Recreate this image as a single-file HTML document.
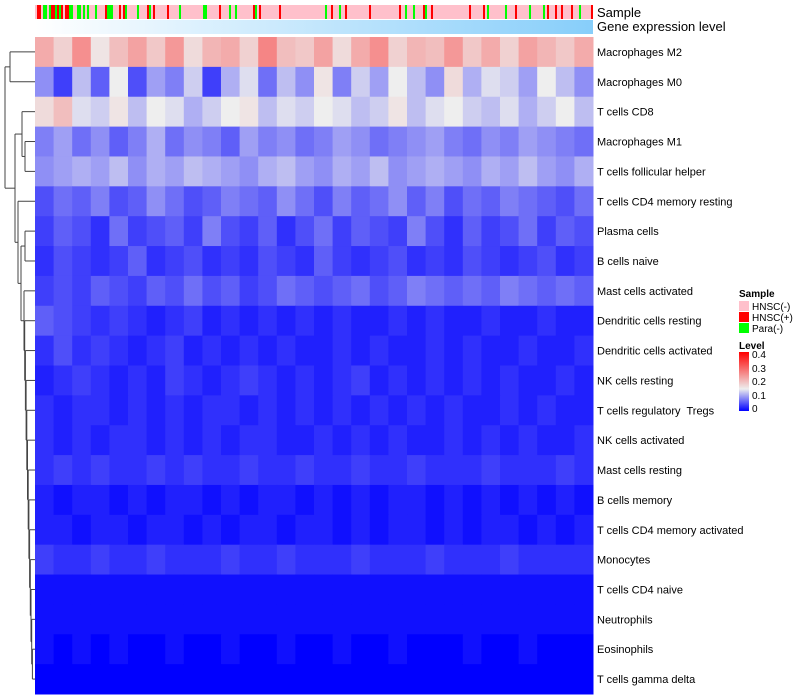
<!DOCTYPE html>
<html><head><meta charset="utf-8"><style>
body{margin:0;background:#fff;font-family:"Liberation Sans",sans-serif}
svg{display:block}
#labels text{white-space:pre}
</style></head><body>
<svg id="chart" width="800" height="700">
<g id="dendro"></g>
<g id="tracks"></g>
<g id="cells"></g>
<g id="labels"></g>
<text x="597" y="17" font-size="13">Sample</text>
<text x="597" y="31" font-size="13">Gene expression level</text>
<g>
<text x="739" y="297" font-size="10" font-weight="bold">Sample</text>
<rect x="739" y="301" width="10" height="10" fill="#ffc0cb"/>
<text x="752" y="310" font-size="10">HNSC(-)</text>
<rect x="739" y="312" width="10" height="10" fill="#ff0000"/>
<text x="752" y="321" font-size="10">HNSC(+)</text>
<rect x="739" y="323" width="10" height="10" fill="#00ff00"/>
<text x="752" y="332" font-size="10">Para(-)</text>
</g>
<g>
<text x="739" y="349" font-size="10" font-weight="bold">Level</text>
<defs><linearGradient id="lg" x1="0" y1="1" x2="0" y2="0">
<stop offset="0" stop-color="#0000ff"/><stop offset="0.375" stop-color="#eeeeee"/><stop offset="1" stop-color="#ff0000"/></linearGradient></defs>
<rect x="739" y="352" width="10" height="59" fill="url(#lg)"/>
<text x="752" y="358" font-size="10">0.4</text>
<text x="752" y="372" font-size="10">0.3</text>
<text x="752" y="385" font-size="10">0.2</text>
<text x="752" y="399" font-size="10">0.1</text>
<text x="752" y="412" font-size="10">0</text>
</g>
</svg>
<script>
const rowNames=["Macrophages M2","Macrophages M0","T cells CD8","Macrophages M1","T cells follicular helper","T cells CD4 memory resting","Plasma cells","B cells naive","Mast cells activated","Dendritic cells resting","Dendritic cells activated","NK cells resting","T cells regulatory  Tregs","NK cells activated","Mast cells resting","B cells memory","T cells CD4 memory activated","Monocytes","T cells CD4 naive","Neutrophils","Eosinophils","T cells gamma delta"];
// level values (x100) per row, 30 column bins each
const rowValues=[
[22,18,25,16,20,23,19,24,17,21,22,18,26,20,19,23,17,22,25,18,21,20,24,19,22,18,23,21,19,22],
[9,4,12,6,15,5,10,8,13,4,11,14,7,12,9,16,8,13,10,15,12,9,17,11,14,13,10,15,12,9],
[17,20,14,13,16,12,15,14,11,13,15,16,12,14,13,15,14,12,13,16,12,14,15,13,12,14,11,13,15,12],
[8,10,7,9,6,8,11,7,9,8,6,10,8,9,7,8,10,9,7,8,9,10,8,7,9,8,10,9,8,7],
[9,10,11,10,12,9,11,10,12,11,10,9,11,12,10,9,11,10,12,9,10,11,10,9,11,10,12,10,9,11],
[5,7,6,8,5,6,9,7,5,6,8,7,6,9,7,5,8,6,7,9,6,8,5,7,6,8,7,6,5,7],
[4,6,5,3,7,4,5,6,4,8,5,4,6,3,5,7,4,6,5,4,8,5,3,6,4,5,7,4,6,5],
[3,5,4,3,4,6,3,4,5,3,4,3,5,4,3,6,4,3,4,5,3,4,3,5,4,3,4,5,3,4],
[4,5,4,6,5,4,6,5,7,5,6,4,5,7,6,5,6,7,5,6,8,7,6,7,6,8,7,6,7,6],
[6,5,4,3,4,3,2,3,4,2,3,2,3,2,3,2,3,2,2,3,2,3,2,2,3,2,2,3,2,2],
[3,5,3,4,3,2,3,4,2,3,2,3,2,3,2,2,3,2,3,2,2,3,2,3,2,2,3,2,2,3],
[2,3,4,3,2,3,2,4,3,2,3,4,3,2,3,2,3,4,2,3,2,3,2,3,2,3,2,2,3,2],
[3,2,3,3,2,3,2,3,2,3,3,2,3,2,3,2,3,2,3,2,3,2,3,2,2,3,2,3,2,2],
[3,2,3,2,3,3,2,3,2,3,2,3,3,2,2,3,2,3,2,3,2,2,3,2,3,2,3,2,2,3],
[3,4,3,4,3,3,4,3,4,3,3,4,3,3,4,3,3,4,3,3,4,3,3,3,4,3,3,3,4,3],
[2,1,2,2,1,2,1,2,2,1,2,1,2,2,1,2,1,2,1,2,2,1,2,1,2,1,2,1,2,1],
[2,2,1,2,2,1,2,2,1,2,1,2,2,1,2,2,1,2,1,2,2,1,2,1,2,2,1,2,1,2],
[4,3,3,4,3,3,4,3,3,3,4,3,3,4,3,3,3,4,3,3,3,4,3,3,3,4,3,3,3,3],
[1,1,1,1,1,1,1,1,1,1,1,1,1,1,1,1,1,1,1,1,1,1,1,1,1,1,1,1,1,1],
[1,1,1,1,1,1,1,1,1,1,1,1,1,1,1,1,1,1,1,1,1,1,1,1,1,1,1,1,1,1],
[1,0,1,0,1,0,0,1,0,0,1,0,0,1,0,0,1,0,0,1,0,0,0,1,0,0,1,0,0,0],
[0,0,0,0,0,0,0,0,0,0,0,0,0,0,0,0,0,0,0,0,0,0,0,0,0,0,0,0,0,0]];
// sample track: column indices (of 279) that are HNSC(+) or Para(-); rest are HNSC(-)
const posSamples=[1,2,8,9,11,13,15,16,35,42,44,56,57,59,66,92,97,109,112,122,148,155,167,182,194,198,217,224,240,256,260,263,268,278];
const paraSamples=[4,5,7,10,12,17,18,21,22,24,26,30,36,37,38,45,51,57,72,84,85,97,100,110,145,152,185,189,195,226,235,247,254,272];
const nSamples=279;

const NS="http://www.w3.org/2000/svg";
const X0=35,X1=593,Y0=37,Y1=694;
const rowH=(Y1-Y0)/rowNames.length;
function color(v){v=Math.max(0,Math.min(0.4,v));
 if(v<0.15){const t=v/0.15;return `rgb(${Math.round(238*t)},${Math.round(238*t)},${Math.round(255-17*t)})`;}
 const t=(v-0.15)/0.25;return `rgb(${Math.round(238+17*t)},${Math.round(238*(1-t))},${Math.round(238*(1-t))})`;}
function mk(tag,attrs,parent){const e=document.createElementNS(NS,tag);for(const k in attrs)e.setAttribute(k,attrs[k]);parent.appendChild(e);return e;}
const cells=document.getElementById('cells'),labels=document.getElementById('labels');
rowNames.forEach((name,r)=>{
 const vals=rowValues[r],bw=(X1-X0)/vals.length;
 vals.forEach((v,c)=>{
  const el=mk('rect',{x:X0+c*bw,y:Y0+r*rowH,width:bw+0.5,height:rowH+0.5,fill:color(v/100)},cells);
  
  
 });
 const t=mk('text',{x:597,y:Y0+r*rowH+rowH/2+4,'font-size':11},labels);
 t.textContent=name;
 
 
});
const tracks=document.getElementById('tracks');
const sw=(X1-X0)/nSamples;
const bg=mk('rect',{x:X0,y:5,width:X1-X0,height:14,fill:'#ffc0cb'},tracks);


posSamples.forEach(i=>{const e=mk('rect',{x:X0+i*sw,y:5,width:sw,height:14,fill:'#ff0000'},tracks);
 
 });
paraSamples.forEach(i=>{const e=mk('rect',{x:X0+i*sw,y:5,width:sw,height:14,fill:'#00ff00'},tracks);
 
 });
const defs=mk('defs',{},tracks);const g=mk('linearGradient',{id:'ge'},defs);
mk('stop',{offset:0,'stop-color':'#ffffff'},g);mk('stop',{offset:1,'stop-color':'#87cefa'},g);
const ge=mk('rect',{x:X0,y:20,width:X1-X0,height:14,fill:'url(#ge)'},tracks);


// dendrogram
const dg=document.getElementById('dendro');
const cy=i=>Y0+i*rowH+rowH/2;
function seg(x1,y1,x2,y2){const l=mk('line',{x1,y1,x2,y2,stroke:'#444','stroke-width':1},dg);
 
 }
function join(xa,ya,xb,yb,x){seg(xa,ya,x,ya);seg(xb,yb,x,yb);seg(x,ya,x,yb);return [x,(ya+yb)/2];}
let a=join(X0,cy(0),X0,cy(1),10);
let b=join(X0,cy(3),X0,cy(4),25);
let c=join(X0,cy(2),b[0],b[1],22);
let d=[X0,cy(21)];
for(let k=20;k>=8;k--){d=join(X0,cy(k),d[0],d[1],Math.min(33,24+(k-8)*0.7));}
let e=join(X0,cy(6),X0,cy(7),25);
d=join(e[0],e[1],d[0],d[1],21);
d=join(X0,cy(5),d[0],d[1],18);
let f=join(c[0],c[1],d[0],d[1],15);
join(a[0],a[1],f[0],f[1],5);
</script>
</body></html>
